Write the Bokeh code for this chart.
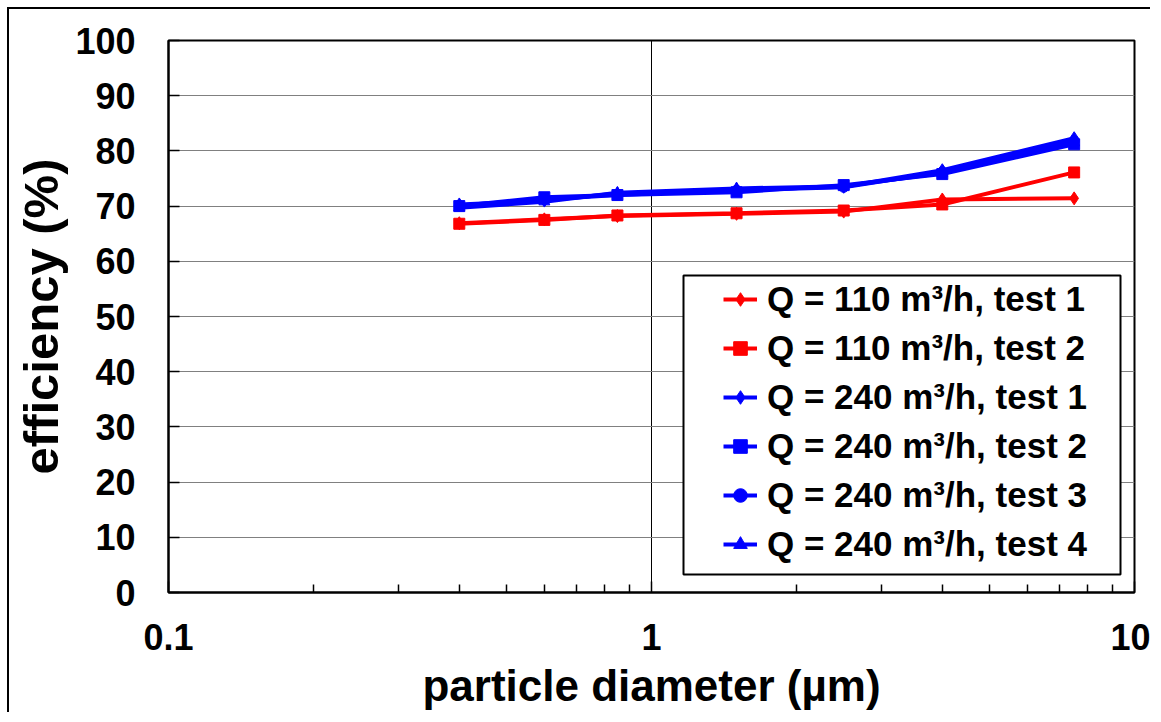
from bokeh.plotting import figure
from bokeh.models import Legend, LegendItem, FixedTicker, BoxAnnotation
from bokeh.embed import file_html
from bokeh.resources import INLINE

# ---- data ----
diameter = [0.4, 0.6, 0.85, 1.5, 2.5, 4.0, 7.5]
q110_t1 = [66.9, 67.6, 68.2, 68.6, 69.0, 71.2, 71.4]
q110_t2 = [66.8, 67.5, 68.3, 68.7, 69.2, 70.3, 76.1]
q240_t1 = [70.3, 71.0, 72.3, 73.0, 73.5, 76.5, 82.3]
q240_t2 = [70.0, 71.6, 72.0, 72.5, 73.8, 75.8, 81.2]
q240_t3 = [70.1, 71.2, 72.0, 72.9, 73.4, 76.2, 81.8]
q240_t4 = [69.7, 70.8, 72.4, 73.2, 73.6, 76.0, 81.5]
labels = ["Q = 110 m³/h, test 1", "Q = 110 m³/h, test 2",
          "Q = 240 m³/h, test 1", "Q = 240 m³/h, test 2",
          "Q = 240 m³/h, test 3", "Q = 240 m³/h, test 4"]
x_major = [0.1, 1, 10]
x_minor = [0.2, 0.3, 0.4, 0.5, 0.6, 0.7, 0.8, 0.9, 2, 3, 4, 5, 6, 7, 8, 9]
y_ticks = [0, 10, 20, 30, 40, 50, 60, 70, 80, 90, 100]
x_title = "particle diameter (µm)"
y_title = "efficiency (%)"

FONT = "Liberation Sans"

p = figure(width=1150, height=712, x_axis_type="log",
           x_range=(0.1, 10), y_range=(0, 100),
           output_backend="svg", toolbar_location=None,
           min_border_left=168, min_border_right=16,
           min_border_top=40, min_border_bottom=119)
p.background_fill_color = "white"
p.border_fill_color = None
p.outline_line_color = "black"
p.outline_line_width = 2
# outer frame of the picture: left and top edges drawn behind the canvas
p.styles = {
    "background": ("linear-gradient(#000, #000) 7px 7px / 2px 100% no-repeat, "
                   "linear-gradient(#000, #000) 7px 7px / 100% 2px no-repeat, #fff"),
}

# axes
for ax in (p.xaxis[0], p.yaxis[0]):
    ax.axis_line_width = 2
    ax.axis_line_color = "black"
    ax.major_tick_line_color = "black"
    ax.major_tick_line_width = 1.5
    ax.major_tick_in = 11
    ax.major_tick_out = 0
    ax.minor_tick_in = 8
    ax.minor_tick_out = 0
    ax.major_label_text_font = FONT
    ax.major_label_text_font_style = "bold"
    ax.major_label_text_font_size = "36px"
    ax.major_label_text_color = "black"
    ax.axis_label_text_font = FONT
    ax.axis_label_text_font_style = "bold"
    ax.axis_label_text_color = "black"

p.xaxis.ticker = FixedTicker(ticks=x_major, minor_ticks=x_minor)
p.xaxis.major_label_overrides = {0.1: "0.1", 1: "1", 10: "10"}
p.xaxis.major_label_standoff = 31
p.xaxis.axis_label = x_title
p.xaxis.axis_label_text_font_size = "44px"
p.xaxis.axis_label_standoff = 8
p.xaxis.minor_tick_line_color = "black"
p.xaxis.minor_tick_line_width = 1.5

p.yaxis.ticker = FixedTicker(ticks=y_ticks)
p.yaxis.minor_tick_line_color = None
p.yaxis.major_label_standoff = 33
p.yaxis.axis_label = y_title
p.yaxis.axis_label_text_font_size = "49px"
p.yaxis.axis_label_standoff = 4

# grids
p.ygrid.ticker = FixedTicker(ticks=y_ticks)
p.ygrid.grid_line_color = "#808080"
p.ygrid.grid_line_width = 1.2
p.xgrid.ticker = FixedTicker(ticks=[1])
p.xgrid.grid_line_color = "black"
p.xgrid.grid_line_width = 1

series = [
    (q110_t1, "#FF0000", "diamond", 13),
    (q110_t2, "#FF0000", "square", 11),
    (q240_t1, "#0000FF", "diamond", 13),
    (q240_t2, "#0000FF", "square", 11),
    (q240_t3, "#0000FF", "circle", 10),
    (q240_t4, "#0000FF", "triangle", 11),
]

items = []
for (vals, col, mk, sz), lab in zip(series, labels):
    r1 = p.line(diameter, vals, line_color=col, line_width=4)
    r2 = p.scatter(diameter, vals, marker=mk, size=sz,
                   fill_color=col, line_color=col)
    items.append(LegendItem(label=lab, renderers=[r1, r2]))

# legend frame
box = BoxAnnotation(left=683, right=1120, top=275, bottom=574,
                    left_units="canvas", right_units="canvas",
                    top_units="canvas", bottom_units="canvas",
                    fill_color="white", fill_alpha=1.0,
                    line_color="black", line_alpha=1.0, line_width=2,
                    level="annotation")
p.add_layout(box)

legend = Legend(items=items, location=(555, 28),
                padding=0, spacing=9, margin=0,
                glyph_width=34, glyph_height=40, label_height=40,
                label_standoff=10,
                label_text_font=FONT, label_text_font_style="bold",
                label_text_font_size="35px", label_text_color="black",
                border_line_color=None, background_fill_alpha=0.0)
p.add_layout(legend, "center")

open("out.html", "w").write(file_html(p, INLINE))
